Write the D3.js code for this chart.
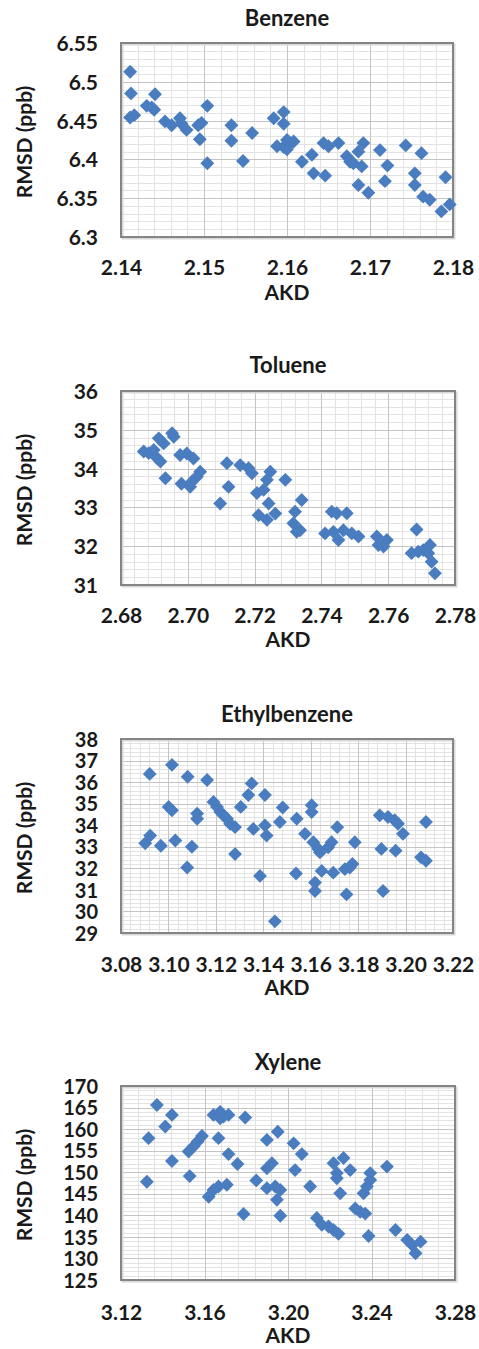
<!DOCTYPE html>
<html>
<head>
<meta charset="utf-8">
<script src="https://cdn.jsdelivr.net/npm/d3@7"></script>
<style>
  html, body { margin: 0; padding: 0; background: #fff; }
  svg { display: block; }
  text { font-family: Lato, "Open Sans", sans-serif; font-weight: 700; fill: #1a1a1a; }
</style>
</head>
<body>
<svg id="chart" width="479" height="1349"></svg>
<script>
// AKD vs RMSD (ppb) for four compounds

const benzeneAKD = [2.1411, 2.1412, 2.1411, 2.1416, 2.1441, 2.1431, 2.1437, 2.1440, 2.1453, 2.1461,
  2.1471, 2.1473, 2.1479, 2.1493, 2.1497, 2.1495, 2.1504, 2.1504, 2.1533, 2.1533,
  2.1547, 2.1558, 2.1584, 2.1596, 2.1596, 2.1588, 2.1596, 2.1600, 2.1604, 2.1608,
  2.1600, 2.1618, 2.1630, 2.1632, 2.1644, 2.1650, 2.1646, 2.1662, 2.1672, 2.1676,
  2.1680, 2.1686, 2.1692, 2.1690, 2.1686, 2.1698, 2.1712, 2.1721, 2.1718, 2.1743,
  2.1762, 2.1754, 2.1754, 2.1764, 2.1772, 2.1791, 2.1786, 2.1796];
const benzeneRMSD = [6.513, 6.485, 6.454, 6.457, 6.484, 6.469, 6.467, 6.464, 6.449, 6.444,
  6.453, 6.446, 6.438, 6.444, 6.447, 6.426, 6.469, 6.395, 6.444, 6.424,
  6.398, 6.434, 6.453, 6.461, 6.446, 6.417, 6.416, 6.425, 6.421, 6.423,
  6.413, 6.397, 6.406, 6.382, 6.421, 6.417, 6.379, 6.421, 6.404, 6.397,
  6.395, 6.410, 6.421, 6.391, 6.367, 6.357, 6.412, 6.392, 6.372, 6.418,
  6.408, 6.382, 6.367, 6.352, 6.348, 6.377, 6.333, 6.342];

const tolueneAKD = [2.6868, 2.6883, 2.6898, 2.6908, 2.6918, 2.6913, 2.6928, 2.6953, 2.6958, 2.6933,
  2.6977, 2.6997, 2.7017, 2.6981, 2.7007, 2.7012, 2.7027, 2.7037, 2.7097, 2.7122,
  2.7117, 2.7157, 2.7182, 2.7192, 2.7207, 2.7227, 2.7237, 2.7247, 2.7212, 2.7237,
  2.7242, 2.7262, 2.7292, 2.7321, 2.7316, 2.7326, 2.7336, 2.7341, 2.7411, 2.7431,
  2.7446, 2.7476, 2.7436, 2.7451, 2.7466, 2.7491, 2.7511, 2.7566, 2.7571, 2.7586,
  2.7596, 2.7685, 2.7670, 2.7690, 2.7705, 2.7725, 2.7720, 2.7730, 2.7740];
const tolueneRMSD = [34.44, 34.40, 34.48, 34.27, 34.18, 34.78, 34.65, 34.91, 34.82, 33.75,
  34.35, 34.39, 34.26, 33.61, 33.53, 33.66, 33.79, 33.92, 33.10, 33.53,
  34.14, 34.09, 34.01, 33.88, 33.37, 33.45, 33.71, 33.92, 32.80, 32.68,
  33.10, 32.84, 33.71, 32.89, 32.59, 32.37, 32.41, 33.19, 32.33, 32.89,
  32.85, 32.85, 32.37, 32.16, 32.41, 32.33, 32.25, 32.25, 32.03, 31.99,
  32.16, 32.43, 31.82, 31.86, 31.90, 32.03, 31.82, 31.60, 31.30];

const ethylbenzeneAKD = [3.0921, 3.0902, 3.0923, 3.0968, 3.1015, 3.1001, 3.1015, 3.1029, 3.1081, 3.1079,
  3.1121, 3.1121, 3.1099, 3.1163, 3.1190, 3.1205, 3.1219, 3.1232, 3.1247, 3.1260,
  3.1281, 3.1281, 3.1305, 3.1337, 3.1351, 3.1358, 3.1407, 3.1407, 3.1414, 3.1386,
  3.1449, 3.1470, 3.1482, 3.1541, 3.1538, 3.1576, 3.1604, 3.1604, 3.1611, 3.1632,
  3.1639, 3.1618, 3.1618, 3.1646, 3.1674, 3.1688, 3.1695, 3.1712, 3.1744, 3.1765,
  3.1776, 3.1751, 3.1786, 3.1891, 3.1898, 3.1905, 3.1926, 3.1954, 3.1968, 3.1958,
  3.1989, 3.2065, 3.2086, 3.2086];
const ethylbenzeneRMSD = [36.38, 33.16, 33.52, 33.05, 36.80, 34.85, 34.69, 33.29, 36.25, 32.04,
  34.54, 34.30, 33.00, 36.10, 35.08, 34.85, 34.61, 34.46, 34.30, 34.07,
  33.91, 32.66, 34.85, 35.40, 35.94, 33.83, 35.40, 33.99, 33.52, 31.65,
  29.54, 34.15, 34.82, 34.30, 31.76, 33.60, 34.93, 34.61, 33.21, 32.90,
  32.74, 31.34, 30.95, 31.88, 32.98, 33.21, 31.80, 33.91, 31.96, 32.04,
  32.20, 30.79, 33.21, 34.46, 32.90, 30.95, 34.38, 34.23, 34.07, 32.82,
  33.60, 32.51, 32.35, 34.15];

const xyleneAKD = [3.1324, 3.1332, 3.1372, 3.1412, 3.1444, 3.1444, 3.1524, 3.1548, 3.1567, 3.1588,
  3.1529, 3.1620, 3.1643, 3.1667, 3.1643, 3.1675, 3.1691, 3.1715, 3.1675, 3.1667,
  3.1707, 3.1715, 3.1758, 3.1795, 3.1787, 3.1848, 3.1899, 3.1899, 3.1923, 3.1899,
  3.1939, 3.1963, 3.1947, 3.1951, 3.1963, 3.2027, 3.2066, 3.2034, 3.2106, 3.2138,
  3.2162, 3.2194, 3.2218, 3.2242, 3.2218, 3.2234, 3.2234, 3.2266, 3.2298, 3.2250,
  3.2322, 3.2346, 3.2370, 3.2362, 3.2378, 3.2394, 3.2394, 3.2386, 3.2474, 3.2515,
  3.2571, 3.2595, 3.2611, 3.2635];
const xyleneRMSD = [147.8, 157.9, 165.6, 160.6, 163.3, 152.6, 154.8, 156.0, 157.1, 158.4,
  149.1, 144.3, 145.9, 146.7, 163.3, 164.0, 162.9, 163.3, 162.5, 157.9,
  147.1, 154.2, 151.9, 162.7, 140.3, 148.1, 157.5, 150.9, 152.1, 146.3,
  146.7, 145.9, 143.6, 159.4, 139.9, 156.7, 154.2, 150.5, 146.7, 139.4,
  137.8, 137.4, 136.6, 135.7, 152.1, 149.8, 148.6, 153.3, 150.5, 145.1,
  141.6, 140.8, 140.4, 145.1, 146.7, 148.2, 149.8, 135.2, 151.3, 136.6,
  134.3, 133.1, 131.2, 133.9];

// Axis ranges and tick steps per panel
const titles = ["Benzene", "Toluene", "Ethylbenzene", "Xylene"];
const xDomains = [[2.14, 2.18], [2.68, 2.78], [3.08, 3.22], [3.12, 3.28]];
const xMajor = [0.01, 0.02, 0.02, 0.04];
const xTickDecimals = [2, 2, 2, 2];
const yDomains = [[6.30, 6.55], [31, 36], [29, 38], [125, 170]];
const yMajor = [0.05, 1, 1, 5];
const yTickFormats = [v => d3.format(".2f")(v).replace(/0$/, "").replace(/\.$/, ""), d3.format("d"), d3.format("d"), d3.format("d")];
const yTickSizes = [21, 21, 20, 20];
const xValues = [benzeneAKD, tolueneAKD, ethylbenzeneAKD, xyleneAKD];
const yValues = [benzeneRMSD, tolueneRMSD, ethylbenzeneRMSD, xyleneRMSD];

// Layout of each panel's plot area
const frames = [
  { left: 121, right: 453, top: 43, bottom: 237, titleY: 26, xTickY: 275, xLabelY: 300 },
  { left: 121, right: 455, top: 391, bottom: 585, titleY: 373, xTickY: 623, xLabelY: 647 },
  { left: 121, right: 453, top: 739, bottom: 933, titleY: 722, xTickY: 972, xLabelY: 995 },
  { left: 121, right: 455, top: 1086, bottom: 1280, titleY: 1070, xTickY: 1320, xLabelY: 1343 }
];

const markerColor = "#4a7dbf";
const svg = d3.select("#chart");

function steps(domain, step) {
  const n = Math.round((domain[1] - domain[0]) / step);
  return d3.range(n + 1).map(i => +(domain[0] + i * step).toFixed(6));
}

frames.forEach((f, i) => {
  const x = d3.scaleLinear().domain(xDomains[i]).range([f.left, f.right]);
  const y = d3.scaleLinear().domain(yDomains[i]).range([f.bottom, f.top]);
  const g = svg.append("g");

  g.append("rect")
    .attr("x", f.left).attr("y", f.top)
    .attr("width", f.right - f.left).attr("height", f.bottom - f.top)
    .attr("fill", "#fff");

  const xMinor = steps(xDomains[i], xMajor[i] / 5);
  const yMinor = steps(yDomains[i], yMajor[i] / 5);
  const xMaj = steps(xDomains[i], xMajor[i]);
  const yMaj = steps(yDomains[i], yMajor[i]);

  // minor gridlines
  g.append("g").selectAll("line").data(xMinor).join("line")
    .attr("x1", d => Math.round(x(d)) + 0.5).attr("x2", d => Math.round(x(d)) + 0.5)
    .attr("y1", f.top).attr("y2", f.bottom)
    .attr("stroke", "#e3e3e3").attr("stroke-width", 1);
  g.append("g").selectAll("line").data(yMinor).join("line")
    .attr("y1", d => Math.round(y(d)) + 0.5).attr("y2", d => Math.round(y(d)) + 0.5)
    .attr("x1", f.left).attr("x2", f.right)
    .attr("stroke", "#e3e3e3").attr("stroke-width", 1);
  // major gridlines
  g.append("g").selectAll("line").data(xMaj).join("line")
    .attr("x1", d => Math.round(x(d)) + 0.5).attr("x2", d => Math.round(x(d)) + 0.5)
    .attr("y1", f.top).attr("y2", f.bottom)
    .attr("stroke", "#c4c4c4").attr("stroke-width", 1);
  g.append("g").selectAll("line").data(yMaj).join("line")
    .attr("y1", d => Math.round(y(d)) + 0.5).attr("y2", d => Math.round(y(d)) + 0.5)
    .attr("x1", f.left).attr("x2", f.right)
    .attr("stroke", "#c4c4c4").attr("stroke-width", 1);

  // plot frame with a soft shadow
  g.append("rect")
    .attr("x", f.left + 1.5).attr("y", f.top + 1.5)
    .attr("width", f.right - f.left).attr("height", f.bottom - f.top)
    .attr("fill", "none").attr("stroke", "#d8d8d8").attr("stroke-width", 2);
  g.append("rect")
    .attr("x", f.left).attr("y", f.top)
    .attr("width", f.right - f.left).attr("height", f.bottom - f.top)
    .attr("fill", "none").attr("stroke", "#858585").attr("stroke-width", 2);

  // markers: squares turned 45 degrees
  const pts = xValues[i].map((v, k) => [v, yValues[i][k]]);
  const diamond = d3.symbol().type(d3.symbolSquare).size(96);
  g.append("g").selectAll("path").data(pts).join("path")
    .attr("d", diamond)
    .attr("transform", d => `translate(${x(d[0])},${y(d[1])}) rotate(45)`)
    .attr("fill", markerColor);

  // axes (text only)
  const xAxis = d3.axisBottom(x).tickValues(xMaj).tickSize(0)
    .tickFormat(d3.format("." + xTickDecimals[i] + "f"));
  const xa = g.append("g").attr("transform", `translate(0,${f.xTickY})`).call(xAxis);
  xa.select(".domain").remove();
  xa.selectAll("text").attr("dy", 0).attr("y", 0)
    .style("font-family", "Lato, 'Open Sans', sans-serif").style("font-weight", 700)
    .style("font-size", "21px").attr("fill", "#1a1a1a");

  const yAxis = d3.axisLeft(y).tickValues(yMaj).tickSize(0).tickFormat(yTickFormats[i]);
  const ya = g.append("g").attr("transform", `translate(${f.left - 23},0)`).call(yAxis);
  ya.select(".domain").remove();
  ya.selectAll("text").attr("x", 0).attr("dy", "0.36em")
    .style("font-family", "Lato, 'Open Sans', sans-serif").style("font-weight", 700)
    .style("font-size", yTickSizes[i] + "px").attr("fill", "#1a1a1a");

  const cx = (f.left + f.right) / 2;
  g.append("text").attr("x", cx).attr("y", f.titleY)
    .attr("text-anchor", "middle").style("font-size", "22px").text(titles[i]);
  g.append("text").attr("x", cx).attr("y", f.xLabelY)
    .attr("text-anchor", "middle").style("font-size", "21px").text("AKD");
  g.append("text")
    .attr("transform", `translate(32,${(f.top + f.bottom) / 2 + 2}) rotate(-90)`)
    .attr("text-anchor", "middle").style("font-size", "21px").text("RMSD (ppb)");
});
</script>
</body>
</html>
